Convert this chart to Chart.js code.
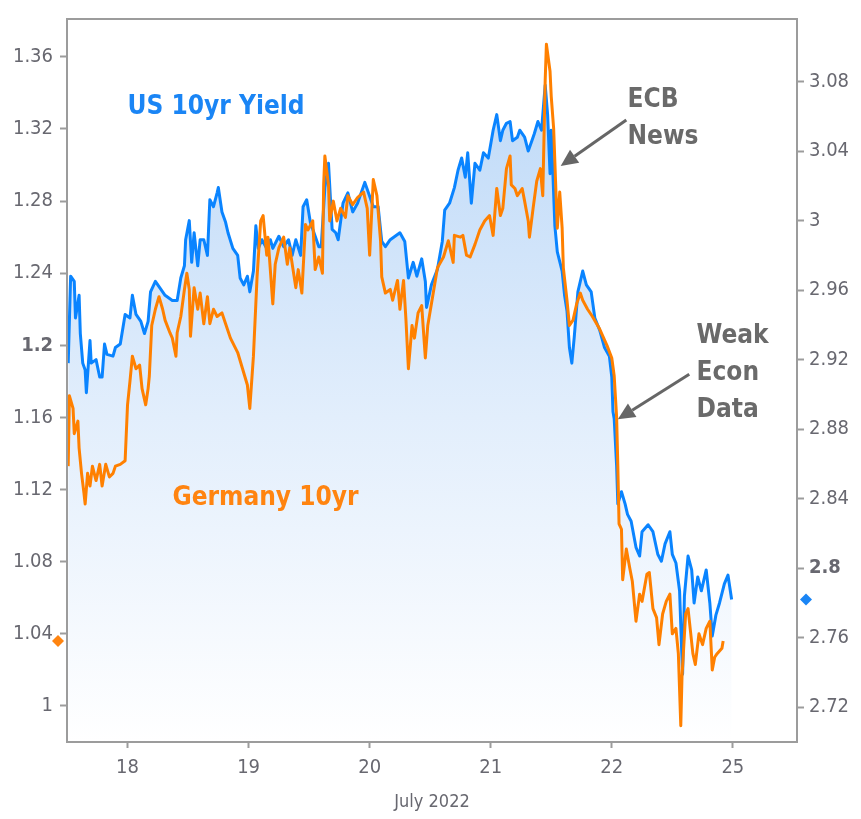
<!DOCTYPE html>
<html>
<head>
<meta charset="utf-8">
<script src="https://cdn.jsdelivr.net/npm/chart.js@4.4.1/dist/chart.umd.min.js"></script>
<style>
  html, body { margin: 0; padding: 0; background: #fff; }
  #wrap { width: 861px; height: 819px; }
</style>
</head>
<body>
<div id="wrap"><canvas id="yieldChart" width="861" height="819"></canvas></div>
<script>
// trading-day index: 0 = July 18 ... 4 = July 22, 5 = July 25 (weekend skipped)
const dayLabels = ['18', '19', '20', '21', '22', '25'];
const dayTicks = [0, 1, 2, 3, 4, 5];
const leftTicks = [1, 1.04, 1.08, 1.12, 1.16, 1.2, 1.24, 1.28, 1.32, 1.36];
const rightTicks = [2.72, 2.76, 2.8, 2.84, 2.88, 2.92, 2.96, 3, 3.04, 3.08];

// US 10yr yield (right axis)
const usTime = [-0.49, -0.47, -0.44, -0.43, -0.40, -0.39, -0.37, -0.35, -0.34, -0.31, -0.30, -0.26, -0.23, -0.21, -0.19, -0.17, -0.12, -0.10, -0.06, -0.02,
  0.02, 0.04, 0.07, 0.11, 0.14, 0.17, 0.19, 0.23, 0.27, 0.31, 0.37, 0.41, 0.44, 0.47, 0.48, 0.51, 0.53, 0.55, 0.58, 0.60, 0.63, 0.66, 0.68, 0.71, 0.74, 0.75, 0.78, 0.81, 0.83, 0.87, 0.91, 0.93, 0.96, 0.99,
  1.01, 1.04, 1.06, 1.08, 1.11, 1.15, 1.18, 1.20, 1.25, 1.29, 1.33, 1.36, 1.39, 1.43, 1.45, 1.48, 1.51, 1.53, 1.58, 1.60, 1.63, 1.66, 1.69, 1.72, 1.74, 1.78, 1.82, 1.86, 1.90, 1.96,
  2.00, 2.03, 2.07, 2.10, 2.13, 2.17, 2.21, 2.25, 2.29, 2.32, 2.36, 2.39, 2.43, 2.46, 2.47, 2.51, 2.56, 2.60, 2.62, 2.66, 2.70, 2.73, 2.76, 2.79, 2.81, 2.84, 2.87, 2.91, 2.94, 2.98,
  3.02, 3.05, 3.08, 3.10, 3.13, 3.16, 3.18, 3.22, 3.24, 3.28, 3.31, 3.34, 3.36, 3.39, 3.42, 3.45, 3.47, 3.49, 3.50, 3.53, 3.55, 3.59, 3.61, 3.63, 3.65, 3.67, 3.69, 3.72, 3.76, 3.79, 3.83, 3.86, 3.90, 3.94, 3.98,
  4.00, 4.01, 4.02, 4.04, 4.05, 4.08, 4.11, 4.13, 4.16, 4.20, 4.23, 4.25, 4.30, 4.34, 4.38, 4.41, 4.44, 4.48, 4.50, 4.53, 4.56, 4.575, 4.585, 4.60, 4.63, 4.66, 4.68, 4.71, 4.74, 4.78, 4.81, 4.83, 4.86, 4.89, 4.93, 4.96, 4.99];
const usYield = [2.918, 2.968, 2.965, 2.944, 2.957, 2.935, 2.918, 2.914, 2.901, 2.931, 2.918, 2.920, 2.910, 2.910, 2.929, 2.923, 2.922, 2.927, 2.929, 2.946,
  2.944, 2.957, 2.946, 2.942, 2.935, 2.942, 2.959, 2.965, 2.961, 2.957, 2.954, 2.954, 2.967, 2.974, 2.989, 3.000, 2.976, 2.993, 2.974, 2.989, 2.989, 2.980, 3.012, 3.008, 3.016, 3.019, 3.005, 2.999, 2.993, 2.984, 2.980, 2.967, 2.963, 2.968,
  2.959, 2.971, 2.997, 2.984, 2.989, 2.984, 2.989, 2.984, 2.991, 2.985, 2.989, 2.980, 2.989, 2.980, 3.008, 3.012, 2.999, 2.995, 2.985, 2.985, 3.019, 3.033, 2.995, 2.993, 2.989, 3.010, 3.016, 3.005, 3.010, 3.022,
  3.014, 3.008, 3.008, 2.988, 2.985, 2.989, 2.991, 2.993, 2.988, 2.967, 2.976, 2.968, 2.978, 2.965, 2.950, 2.963, 2.972, 2.988, 3.006, 3.010, 3.019, 3.029, 3.036, 3.025, 3.039, 3.010, 3.033, 3.029, 3.039, 3.036,
  3.052, 3.061, 3.046, 3.052, 3.056, 3.057, 3.046, 3.048, 3.052, 3.048, 3.040, 3.046, 3.050, 3.057, 3.052, 3.078, 3.061, 3.027, 3.052, 2.997, 2.982, 2.971, 2.957, 2.948, 2.927, 2.918, 2.933, 2.959, 2.971, 2.963, 2.959, 2.944, 2.937, 2.927, 2.922,
  2.910, 2.890, 2.886, 2.859, 2.837, 2.844, 2.837, 2.831, 2.827, 2.812, 2.807, 2.821, 2.825, 2.821, 2.808, 2.804, 2.814, 2.821, 2.808, 2.803, 2.787, 2.757, 2.739, 2.784, 2.807, 2.799, 2.780, 2.795, 2.787, 2.799, 2.780, 2.761, 2.773, 2.780, 2.791, 2.796, 2.782];

// Germany 10yr yield (left axis)
const deTime = [-0.49, -0.48, -0.45, -0.44, -0.41, -0.40, -0.38, -0.36, -0.35, -0.33, -0.31, -0.29, -0.26, -0.23, -0.21, -0.18, -0.15, -0.12, -0.10, -0.06, -0.02,
  0.00, 0.02, 0.04, 0.07, 0.10, 0.12, 0.15, 0.17, 0.18, 0.20, 0.23, 0.26, 0.29, 0.31, 0.35, 0.37, 0.40, 0.41, 0.44, 0.47, 0.49, 0.51, 0.52, 0.55, 0.58, 0.60, 0.63, 0.66, 0.68, 0.71, 0.74, 0.78, 0.81, 0.85, 0.91, 0.95, 0.99,
  1.01, 1.04, 1.07, 1.10, 1.12, 1.15, 1.16, 1.20, 1.22, 1.25, 1.29, 1.32, 1.34, 1.39, 1.41, 1.44, 1.47, 1.49, 1.53, 1.55, 1.58, 1.61, 1.62, 1.63, 1.66, 1.67, 1.70, 1.73, 1.76, 1.80, 1.82, 1.86, 1.90, 1.95, 1.98,
  2.00, 2.03, 2.06, 2.09, 2.10, 2.13, 2.17, 2.19, 2.23, 2.25, 2.28, 2.30, 2.32, 2.35, 2.37, 2.40, 2.43, 2.46, 2.48, 2.52, 2.56, 2.61, 2.65, 2.69, 2.70, 2.75, 2.77, 2.80, 2.83, 2.87, 2.91, 2.95, 2.99,
  3.02, 3.05, 3.08, 3.10, 3.13, 3.16, 3.17, 3.20, 3.22, 3.26, 3.28, 3.31, 3.32, 3.35, 3.38, 3.41, 3.43, 3.45, 3.46, 3.49, 3.50, 3.52, 3.54, 3.55, 3.57, 3.59, 3.60, 3.63, 3.65, 3.68, 3.71, 3.74, 3.76, 3.80, 3.84, 3.90, 3.96,
  4.00, 4.02, 4.04, 4.05, 4.06, 4.08, 4.09, 4.12, 4.15, 4.17, 4.20, 4.23, 4.25, 4.29, 4.31, 4.34, 4.37, 4.39, 4.42, 4.45, 4.48, 4.50, 4.53, 4.55, 4.57, 4.58, 4.61, 4.63, 4.67, 4.69, 4.72, 4.75, 4.78, 4.81, 4.83, 4.85, 4.87, 4.91, 4.92];
const deYield = [1.133, 1.172, 1.165, 1.151, 1.158, 1.143, 1.129, 1.118, 1.112, 1.129, 1.122, 1.133, 1.125, 1.134, 1.122, 1.134, 1.127, 1.129, 1.133, 1.134, 1.136,
  1.167, 1.180, 1.194, 1.187, 1.189, 1.176, 1.167, 1.176, 1.183, 1.211, 1.220, 1.227, 1.220, 1.214, 1.207, 1.204, 1.194, 1.207, 1.216, 1.231, 1.240, 1.231, 1.205, 1.232, 1.220, 1.229, 1.212, 1.227, 1.212, 1.220, 1.216, 1.218, 1.212, 1.204, 1.196, 1.187, 1.178,
  1.165, 1.194, 1.238, 1.269, 1.272, 1.250, 1.260, 1.223, 1.245, 1.254, 1.260, 1.245, 1.254, 1.232, 1.242, 1.229, 1.267, 1.264, 1.269, 1.242, 1.249, 1.240, 1.289, 1.305, 1.289, 1.269, 1.280, 1.269, 1.276, 1.271, 1.283, 1.278, 1.282, 1.285, 1.276,
  1.250, 1.292, 1.283, 1.258, 1.238, 1.229, 1.231, 1.225, 1.236, 1.220, 1.236, 1.214, 1.187, 1.211, 1.204, 1.218, 1.222, 1.193, 1.211, 1.227, 1.243, 1.249, 1.258, 1.246, 1.261, 1.260, 1.261, 1.250, 1.249, 1.256, 1.264, 1.269, 1.272,
  1.261, 1.287, 1.272, 1.276, 1.298, 1.305, 1.289, 1.287, 1.283, 1.287, 1.280, 1.269, 1.260, 1.276, 1.291, 1.298, 1.283, 1.347, 1.367, 1.352, 1.338, 1.320, 1.283, 1.265, 1.285, 1.265, 1.243, 1.225, 1.211, 1.214, 1.223, 1.229, 1.225, 1.220, 1.216, 1.209, 1.200,
  1.193, 1.183, 1.160, 1.133, 1.101, 1.098, 1.070, 1.087, 1.076, 1.069, 1.047, 1.062, 1.058, 1.073, 1.074, 1.054, 1.049, 1.034, 1.051, 1.058, 1.062, 1.040, 1.043, 1.029, 0.989, 1.016, 1.051, 1.054, 1.029, 1.023, 1.040, 1.034, 1.043, 1.047, 1.020, 1.027, 1.029, 1.032, 1.036];

// text callouts, placed in (trading day, left-axis yield) units
const notes = [
  { lines: ['US 10yr Yield'], x: 0, y: 1.332, color: '#1a85f5' },
  { lines: ['Germany 10yr'], x: 0.371, y: 1.115, color: '#ff8410' },
  { lines: ['ECB', 'News'], x: 4.13, y: 1.336, color: '#6a6a6a' },
  { lines: ['Weak', 'Econ', 'Data'], x: 4.70, y: 1.205, color: '#6a6a6a' }
];
const arrows = [
  { from: [4.12, 1.325], to: [3.578, 1.2995] },
  { from: [4.64, 1.184], to: [4.05, 1.159] }
];

const FONT = "'DejaVu Sans Condensed', 'DejaVu Sans', sans-serif";
const AXIS_GRAY = '#9c9c9c';
const LABEL_GRAY = '#686870';

function toPoints(xs, ys) {
  return xs.map((x, i) => ({ x: x, y: ys[i] }));
}

function fmt(v) {
  return String(Number(v.toFixed(2)));
}

function blueFill(context) {
  const area = context.chart.chartArea;
  if (!area) return 'rgba(190,215,245,0.6)';
  const g = context.chart.ctx.createLinearGradient(0, area.top, 0, area.bottom);
  g.addColorStop(0, '#b8d6f7');
  g.addColorStop(0.55, '#e2eefc');
  g.addColorStop(1, '#ffffff');
  return g;
}

function drawArrow(ctx, x1, y1, x2, y2) {
  const ang = Math.atan2(y2 - y1, x2 - x1);
  const head = 17, half = 8;
  const bx = x2 - head * Math.cos(ang), by = y2 - head * Math.sin(ang);
  ctx.beginPath();
  ctx.moveTo(x1, y1);
  ctx.lineTo(bx, by);
  ctx.stroke();
  ctx.beginPath();
  ctx.moveTo(x2, y2);
  ctx.lineTo(bx + half * Math.sin(ang), by - half * Math.cos(ang));
  ctx.lineTo(bx - half * Math.sin(ang), by + half * Math.cos(ang));
  ctx.closePath();
  ctx.fill();
}

function drawDiamond(ctx, x, y, r, color) {
  ctx.fillStyle = color;
  ctx.beginPath();
  ctx.moveTo(x, y - r);
  ctx.lineTo(x + r, y);
  ctx.lineTo(x, y + r);
  ctx.lineTo(x - r, y);
  ctx.closePath();
  ctx.fill();
}

const overlay = {
  id: 'overlay',
  afterDraw(chart) {
    const { ctx, chartArea: a, scales } = chart;
    const sx = scales.x, sl = scales.y, sr = scales.y1;
    ctx.save();

    // frame round the plot (the fill would otherwise hide the axis lines)
    ctx.strokeStyle = AXIS_GRAY;
    ctx.lineWidth = 2;
    ctx.strokeRect(a.left, a.top, a.right - a.left, a.bottom - a.top);

    // last value markers on the axes
    drawDiamond(ctx, a.left - 9, sl.getPixelForValue(deYield[deYield.length - 1]), 6, '#ff8410');
    drawDiamond(ctx, a.right + 9, sr.getPixelForValue(usYield[usYield.length - 1]), 6, '#1a85f5');

    // callouts
    ctx.font = 'bold 26px ' + FONT;
    ctx.textBaseline = 'middle';
    ctx.textAlign = 'left';
    notes.forEach(n => {
      ctx.fillStyle = n.color;
      const px = sx.getPixelForValue(n.x);
      const py = sl.getPixelForValue(n.y);
      n.lines.forEach((t, i) => ctx.fillText(t, px, py + i * 37));
    });

    ctx.strokeStyle = '#666';
    ctx.fillStyle = '#666';
    ctx.lineWidth = 3;
    arrows.forEach(ar => {
      drawArrow(ctx,
        sx.getPixelForValue(ar.from[0]), sl.getPixelForValue(ar.from[1]),
        sx.getPixelForValue(ar.to[0]), sl.getPixelForValue(ar.to[1]));
    });
    ctx.restore();
  }
};

const tickFont = (bold) => (c) => ({
  family: FONT,
  size: 20,
  weight: c.tick && bold.includes(Number(c.tick.value.toFixed(2))) ? 'bold' : 'normal'
});

new Chart(document.getElementById('yieldChart'), {
  type: 'line',
  data: {
    datasets: [
      {
        label: 'Germany 10yr',
        data: toPoints(deTime, deYield),
        yAxisID: 'y',
        borderColor: '#ff8000',
        borderWidth: 3,
        pointRadius: 0,
        fill: false,
        borderJoinStyle: 'round'
      },
      {
        label: 'US 10yr Yield',
        data: toPoints(usTime, usYield),
        yAxisID: 'y1',
        borderColor: '#0a84ff',
        borderWidth: 3,
        pointRadius: 0,
        fill: 'start',
        backgroundColor: blueFill,
        borderJoinStyle: 'round'
      }
    ]
  },
  options: {
    responsive: false,
    animation: false,
    devicePixelRatio: 1,
    layout: { padding: { top: 7 } },
    plugins: {
      legend: { display: false },
      tooltip: { enabled: false }
    },
    scales: {
      x: {
        type: 'linear',
        min: -0.5,
        max: 5.53,
        afterBuildTicks: s => { s.ticks = dayTicks.map(v => ({ value: v })); },
        afterFit: s => { s.height = 77; },
        ticks: {
          callback: (v) => dayLabels[dayTicks.indexOf(v)],
          color: LABEL_GRAY,
          font: { family: FONT, size: 20 },
          padding: 8,
          maxRotation: 0
        },
        grid: { drawOnChartArea: false, tickLength: 6, tickColor: AXIS_GRAY, tickWidth: 2 },
        border: { color: AXIS_GRAY, width: 2 },
        title: {
          display: true,
          text: 'July 2022',
          color: LABEL_GRAY,
          font: { family: FONT, size: 18 },
          padding: { top: 0, bottom: 6 }
        }
      },
      y: {
        position: 'left',
        min: 0.98,
        max: 1.381,
        afterBuildTicks: s => { s.ticks = leftTicks.map(v => ({ value: v })); },
        afterFit: s => { s.width = 67; },
        ticks: {
          callback: fmt,
          color: LABEL_GRAY,
          font: tickFont([1.2]),
          padding: 7
        },
        grid: { drawOnChartArea: false, tickLength: 7, tickColor: AXIS_GRAY, tickWidth: 2 },
        border: { color: AXIS_GRAY, width: 2 }
      },
      y1: {
        position: 'right',
        min: 2.70,
        max: 3.116,
        afterBuildTicks: s => { s.ticks = rightTicks.map(v => ({ value: v })); },
        afterFit: s => { s.width = 64; },
        ticks: {
          callback: fmt,
          color: LABEL_GRAY,
          font: tickFont([2.8]),
          padding: 5
        },
        grid: { drawOnChartArea: false, tickLength: 7, tickColor: AXIS_GRAY, tickWidth: 2 },
        border: { color: AXIS_GRAY, width: 2 }
      }
    }
  },
  plugins: [overlay]
});
</script>
</body>
</html>
